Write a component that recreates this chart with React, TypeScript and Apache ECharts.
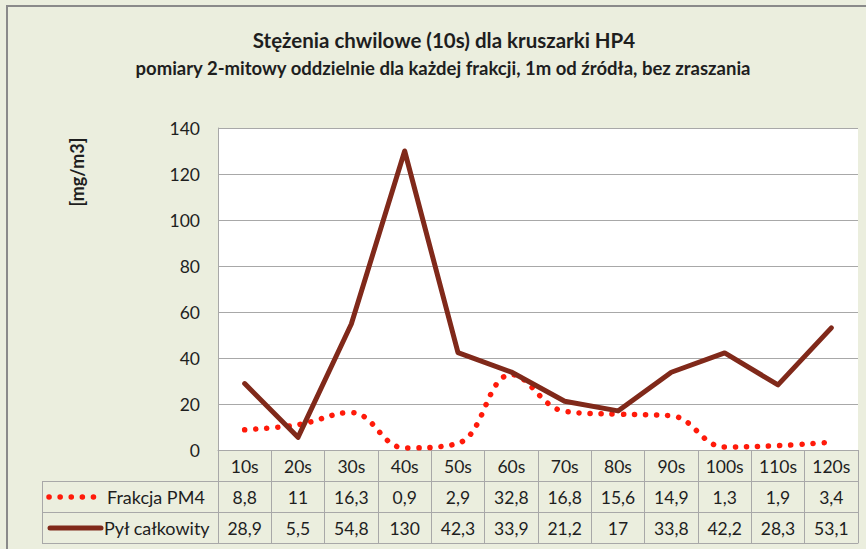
import React, { useEffect, useRef } from "react";
import * as echarts from "echarts";

const categories = ["10s", "20s", "30s", "40s", "50s", "60s", "70s", "80s", "90s", "100s", "110s", "120s"];
const pm4 = [8.8, 11, 16.3, 0.9, 2.9, 32.8, 16.8, 15.6, 14.9, 1.3, 1.9, 3.4];
const total = [28.9, 5.5, 54.8, 130, 42.3, 33.9, 21.2, 17, 33.8, 42.2, 28.3, 53.1];
const seriesNames = ["Frakcja PM4", "Pył całkowity"];
const yMin = 0;
const yMax = 140;
const yStep = 20;

const FONT = "Lato, 'Liberation Sans', sans-serif";
const TXT = "#1e1e1e";
const GRID_C = "#a8a8a8";
const RED = "#ff1a0a";
const BROWN = "#80291a";
const fmt = (v: number) => String(v).replace(".", ",");

export default function App() {
  const ref = useRef<HTMLDivElement>(null);
  useEffect(() => {
    if (!ref.current) return;
    const chart = echarts.init(ref.current, undefined, { renderer: "svg" });
    const tableAxis = (data: string[], offset: number, showLabel: boolean, tickLen: number) => ({
      type: "category" as const,
      data,
      position: "bottom" as const,
      offset,
      boundaryGap: true,
      axisLine: { show: true, lineStyle: { color: GRID_C, width: 1 } },
      axisTick: { show: tickLen > 0, length: tickLen, interval: 0, lineStyle: { color: GRID_C, width: 1 } },
      axisLabel: { show: showLabel, interval: 0, margin: 7, fontSize: 17.5, color: TXT, fontFamily: FONT },
      splitLine: { show: false },
    });
    chart.setOption({
      animation: false,
      backgroundColor: "#ebeede",
      grid: {
        left: 218,
        right: 8,
        top: 128,
        bottom: 99,
        show: true,
        backgroundColor: "#ffffff",
        borderWidth: 0,
      },
      xAxis: [
        tableAxis(categories, 0, true, 31),
        tableAxis(pm4.map(fmt), 31, true, 31),
        tableAxis(total.map(fmt), 62, true, 31),
        tableAxis(categories, 93, false, 0),
      ],
      yAxis: {
        type: "value",
        min: yMin,
        max: yMax,
        interval: yStep,
        axisLine: { show: true, lineStyle: { color: GRID_C } },
        axisTick: { show: false },
        splitLine: { show: true, lineStyle: { color: GRID_C, width: 1 } },
        axisLabel: { fontSize: 17.5, margin: 18, color: TXT, fontFamily: FONT },
      },
      series: [
        {
          name: seriesNames[0],
          type: "line",
          data: pm4,
          smooth: 0.4,
          showSymbol: false,
          lineStyle: { color: RED, width: 5.5, type: [0.1, 11], cap: "round" },
          z: 3,
        },
        {
          name: seriesNames[1],
          type: "line",
          data: total,
          showSymbol: false,
          lineStyle: { color: BROWN, width: 5, cap: "round", join: "round" },
          z: 4,
        },
      ],
      graphic: [
        { type: "line", shape: { x1: 6, y1: 6, x2: 866, y2: 6 }, style: { stroke: "#8a8a8a", lineWidth: 2 } },
        { type: "line", shape: { x1: 7, y1: 6, x2: 7, y2: 549 }, style: { stroke: "#8a8a8a", lineWidth: 2 } },
        {
          type: "text",
          x: 444,
          y: 40,
          style: {
            text: "Stężenia chwilowe (10s) dla kruszarki HP4",
            fontSize: 20.5, fontWeight: "bold", fill: TXT, fontFamily: FONT, align: "center", verticalAlign: "middle",
          },
        },
        {
          type: "text",
          x: 443,
          y: 68,
          style: {
            text: "pomiary 2-mitowy oddzielnie dla każdej frakcji, 1m od źródła, bez zraszania",
            fontSize: 18.5, fontWeight: "bold", fill: TXT, fontFamily: FONT, align: "center", verticalAlign: "middle",
          },
        },
        {
          type: "text",
          x: 77,
          y: 172,
          rotation: Math.PI / 2,
          style: { text: "[mg/m3]", fontSize: 18, fontWeight: "bold", fill: TXT, fontFamily: FONT, align: "center", verticalAlign: "middle" },
        },
        { type: "line", shape: { x1: 42, y1: 481.5, x2: 218, y2: 481.5 }, style: { stroke: GRID_C, lineWidth: 1 } },
        { type: "line", shape: { x1: 42, y1: 512.5, x2: 218, y2: 512.5 }, style: { stroke: GRID_C, lineWidth: 1 } },
        { type: "line", shape: { x1: 42, y1: 543.5, x2: 218, y2: 543.5 }, style: { stroke: GRID_C, lineWidth: 1 } },
        { type: "line", shape: { x1: 42.5, y1: 481, x2: 42.5, y2: 544 }, style: { stroke: GRID_C, lineWidth: 1 } },
        {
          type: "line",
          shape: { x1: 49, y1: 497, x2: 98, y2: 497 },
          style: { stroke: RED, lineWidth: 5.5, lineDash: [0.1, 11], lineCap: "round" },
        },
        {
          type: "text",
          x: 107,
          y: 497,
          style: { text: seriesNames[0], fontSize: 18, fill: TXT, fontFamily: FONT, verticalAlign: "middle" },
        },
        {
          type: "line",
          shape: { x1: 50, y1: 528, x2: 101, y2: 528 },
          style: { stroke: BROWN, lineWidth: 5, lineCap: "round" },
        },
        {
          type: "text",
          x: 104,
          y: 528,
          style: { text: seriesNames[1], fontSize: 18, fill: TXT, fontFamily: FONT, verticalAlign: "middle" },
        },
      ],
    });
    return () => chart.dispose();
  }, []);
  return <div ref={ref} style={{ width: 866, height: 549, position: "absolute", left: 0, top: 0 }} />;
}
